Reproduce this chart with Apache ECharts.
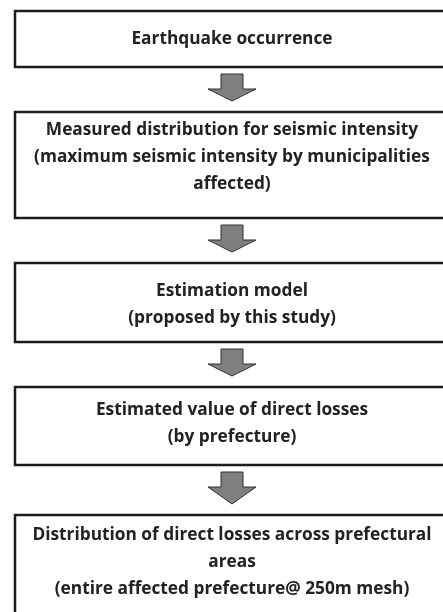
<!DOCTYPE html>
<html>
<head>
<meta charset="utf-8">
<script src="https://cdn.jsdelivr.net/npm/echarts@6/dist/echarts.min.js"></script>
<style>
  html, body { margin: 0; padding: 0; background: #fff; }
  #main { width: 443px; height: 612px; }
</style>
</head>
<body>
<div id="main"></div>
<script>
// flow steps (top to bottom)
const steps = [
  'Earthquake occurrence',
  'Measured distribution for seismic intensity\n(maximum seismic intensity by municipalities\naffected)',
  'Estimation model\n(proposed by this study)',
  'Estimated value of direct losses\n(by prefecture)',
  'Distribution of direct losses across prefectural\nareas\n(entire affected prefecture@ 250m mesh)'
];

// layout in pixel units of the picture
const boxTop = [11, 112, 263, 387, 515];
const boxBottom = [67, 218, 342, 465, 640];
const textMid = [39, 157, 305, 424, 562];
const boxLeft = 15, boxRight = 452, midX = 232;

let myEchart = echarts.init(document.getElementById('main'));

function renderItem(params, api) {
  const i = api.value(0);
  const p0 = api.coord([boxLeft, boxTop[i]]);
  const p1 = api.coord([boxRight, boxBottom[i]]);
  const tc = api.coord([midX, textMid[i]]);
  const children = [
    {
      type: 'rect',
      shape: { x: p0[0], y: p0[1], width: p1[0] - p0[0], height: p1[1] - p0[1] },
      style: { fill: '#fff', stroke: '#1c1c1c', lineWidth: 2.5 }
    },
    {
      type: 'text',
      style: {
        x: tc[0], y: tc[1], text: steps[i],
        align: 'center', verticalAlign: 'middle',
        font: 'bold 17.3px "Open Sans"', lineHeight: 27, fill: '#222'
      }
    }
  ];
  // arrow to next step
  if (i < steps.length - 1) {
    const top = boxBottom[i] + 7;
    const tip = boxTop[i + 1] - 11;
    const headY = top + 15;
    const pts = [
      [midX - 11, top], [midX + 11, top], [midX + 11, headY], [midX + 24, headY],
      [midX, tip], [midX - 24, headY], [midX - 11, headY]
    ].map(p => api.coord(p));
    children.push({
      type: 'polygon',
      shape: { points: pts },
      style: { fill: '#7f7f7f', stroke: '#303030', lineWidth: 1 }
    });
  }
  return { type: 'group', children: children };
}

let option = {
  animation: false,
  grid: { left: 0, right: 0, top: 0, bottom: 0 },
  xAxis: { type: 'value', min: 0, max: 443, show: false },
  yAxis: { type: 'value', min: 0, max: 612, inverse: true, show: false },
  series: [
    {
      type: 'custom',
      renderItem: renderItem,
      clip: false,
      data: steps.map((s, i) => [i])
    }
  ]
};
myEchart.setOption(option);
</script>
</body>
</html>
